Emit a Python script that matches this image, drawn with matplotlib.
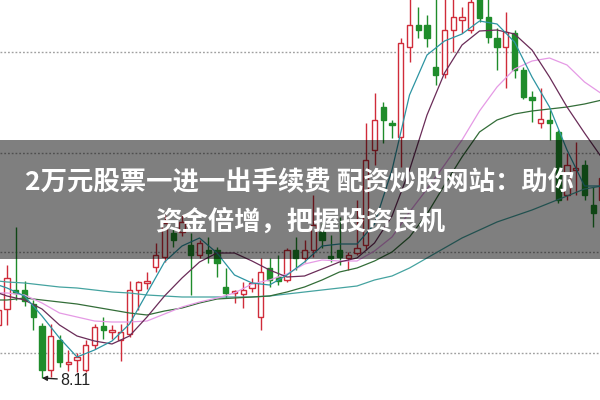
import numpy as np
import matplotlib
matplotlib.use('Agg')
import matplotlib.pyplot as plt
from matplotlib.patches import Rectangle

# -------- data -------- #
# candle index -1 .. 68 (daily K-line)
idx = np.arange(-1, 69)
opens = [8.64, 8.80, 8.99, 8.99, 8.85, 8.63, 8.19, 8.49, 8.25, 8.29,
         8.19, 8.44, 8.63, 8.57, 8.49, 8.55, 8.99, 9.06, 9.22, 9.32,
         9.56, 9.57, 9.44, 9.34, 9.39, 9.39, 9.02, 8.96, 8.95, 9.01,
         8.72, 9.21, 9.12, 9.09, 9.39, 9.31, 9.39, 9.57, 9.33, 9.39,
         9.31, 9.36, 9.44, 10.39, 10.82, 10.66, 10.52, 11.42, 11.64, 11.64,
         11.22, 11.15, 11.59, 11.69, 11.59, 11.94, 11.72, 11.51, 11.42, 11.56,
         11.19, 10.92, 10.66, 10.69, 10.57, 9.94, 10.19, 10.24, 9.84, 9.89]
closes = [8.79, 9.11, 8.96, 8.88, 8.72, 8.19, 8.53, 8.27, 8.27, 8.32,
          8.44, 8.62, 8.59, 8.59, 8.57, 8.99, 9.07, 9.08, 9.34, 9.66,
          9.49, 9.67, 9.34, 9.46, 9.36, 9.26, 8.96, 8.98, 8.99, 9.06,
          9.17, 9.09, 9.08, 9.39, 9.31, 9.39, 9.64, 9.49, 9.31, 9.32,
          9.34, 9.41, 10.29, 10.69, 10.69, 10.64, 11.46, 11.64, 11.59, 11.51,
          11.14, 11.59, 11.72, 11.72, 11.87, 11.71, 11.52, 11.42, 11.57, 11.19,
          10.92, 10.89, 10.70, 10.66, 9.89, 10.24, 10.21, 9.94, 9.76, 10.11]
highs = [8.84, 9.24, 9.62, 9.08, 8.89, 8.66, 8.65, 8.54, 8.39, 8.36,
         8.49, 8.65, 8.72, 8.64, 8.65, 9.08, 9.08, 9.17, 9.46, 9.74,
         9.62, 9.74, 9.56, 9.49, 9.52, 9.42, 9.21, 8.99, 9.07, 9.11,
         9.31, 9.31, 9.34, 9.41, 9.52, 9.49, 9.94, 9.66, 9.54, 9.72,
         9.37, 9.89, 10.66, 10.96, 10.87, 10.69, 11.51, 11.95, 11.82, 11.74,
         11.95, 11.95, 11.95, 11.82, 11.94, 11.99, 11.95, 11.61, 11.77, 11.59,
         11.22, 10.98, 11.01, 10.79, 10.59, 10.36, 10.47, 10.29, 10.02, 10.19]
lows = [8.61, 8.64, 8.89, 8.83, 8.59, 8.11, 8.12, 8.22, 8.18, 8.17,
        8.17, 8.40, 8.50, 8.50, 8.28, 8.52, 8.79, 9.00, 9.17, 9.27,
        9.42, 9.53, 8.94, 9.31, 9.26, 9.12, 8.91, 8.86, 8.81, 8.97,
        8.59, 9.02, 9.04, 9.07, 9.19, 9.27, 9.32, 9.41, 9.27, 9.24,
        9.19, 9.34, 9.39, 10.24, 10.46, 10.51, 10.22, 11.27, 11.51, 11.42,
        11.04, 11.11, 11.37, 11.56, 11.56, 11.67, 11.46, 11.19, 11.01, 11.11,
        10.90, 10.67, 10.61, 10.49, 9.86, 9.89, 9.94, 9.89, 9.62, 9.84]

# moving averages, read every 2nd candle
ma_idx = [-1] + list(range(0, 69, 2))
ma_fast = [9.04, 9.01, 8.93, 8.73, 8.51, 8.32, 8.39, 8.48, 8.65, 8.96, 9.27,
           9.43, 9.51, 9.36, 9.14, 9.06, 9.04, 9.14, 9.27, 9.43, 9.45,
           9.45, 9.65, 10.19, 10.94, 11.34, 11.48, 11.55, 11.68, 11.65, 11.47,
           11.12, 10.82, 10.39, 10.03, 10.03]
ma_10 = [8.96, 8.93, 8.89, 8.80, 8.64, 8.53, 8.48, 8.45, 8.53, 8.72, 8.93,
         9.11, 9.27, 9.36, 9.36, 9.28, 9.19, 9.12, 9.13, 9.20, 9.27,
         9.31, 9.46, 9.73, 10.19, 10.74, 11.16, 11.44, 11.58, 11.59, 11.55,
         11.39, 11.12, 10.82, 10.56, 10.31]
ma_20 = [8.96, 8.96, 8.94, 8.86, 8.76, 8.72, 8.68, 8.67, 8.67, 8.68, 8.75,
         8.82, 8.87, 8.91, 8.96, 9.05, 9.09, 9.15, 9.25, 9.29, 9.28,
         9.28, 9.38, 9.52, 9.77, 10.00, 10.24, 10.49, 10.78, 11.02, 11.20,
         11.28, 11.31, 11.24, 11.07, 10.95]
ma_30 = [8.89, 8.89, 8.91, 8.89, 8.87, 8.85, 8.82, 8.79, 8.76, 8.74, 8.78,
         8.81, 8.86, 8.90, 8.91, 8.92, 8.93, 8.97, 9.02, 9.09, 9.17,
         9.21, 9.28, 9.37, 9.52, 9.75, 10.04, 10.32, 10.57, 10.69, 10.75,
         10.78, 10.80, 10.82, 10.85, 10.89]
ma_60 = [9.08, 9.07, 9.06, 9.04, 9.02, 9.01, 8.99, 8.97, 8.96, 8.94, 8.93,
         8.92, 8.92, 8.92, 8.92, 8.92, 8.93, 8.95, 8.97, 8.99, 9.01,
         9.03, 9.09, 9.13, 9.21, 9.31, 9.41, 9.51, 9.59, 9.67, 9.73,
         9.79, 9.86, 9.93, 10.00, 10.03]

grid_levels = [11.37, 10.36, 9.37, 8.36]
low_label = '8.11'
low_idx = 4
title_1 = '2万元股票一进一出手续费 配资炒股网站：助你'
title_2 = '资金倍增，把握投资良机'

RED = '#d02c3a'
GREEN = '#1f8c2b'

# -------- plot -------- #
fig = plt.figure(figsize=(6, 4), dpi=100)
ax = fig.add_axes([0, 0, 1, 1])
ax.set_xlim(-0.8, 67.77)
ax.set_ylim(7.89, 11.89)
ax.axis('off')

for g in grid_levels:
    ax.axhline(g, color='#a0a0a0', lw=1, ls=(0, (1.3, 1.4)), zorder=1)

w = 0.62
for i, o, h, l, c in zip(idx, opens, highs, lows, closes):
    up = c >= o
    col = RED if up else GREEN
    ax.vlines(i, l, h, color=col, lw=1.0, zorder=2)
    bottom = min(o, c)
    height = max(abs(c - o), 0.012)
    ax.add_patch(Rectangle((i - w / 2, bottom), w, height,
                           facecolor='white' if up else col,
                           edgecolor=col, lw=1.0, zorder=3))

ax.plot(ma_idx, ma_60, color='#45a3a0', lw=0.9, zorder=4)
ax.plot(ma_idx, ma_30, color='#336d38', lw=0.9, zorder=4)
ax.plot(ma_idx, ma_20, color='#e59ae5', lw=0.9, zorder=4)
ax.plot(ma_idx, ma_10, color='#6a2c58', lw=0.9, zorder=4)
ax.plot(ma_idx, ma_fast, color='#2d94a2', lw=0.9, zorder=4)

ax.annotate(low_label, xy=(low_idx, lows[low_idx + 1]), xytext=(18, -2),
            textcoords='offset pixels', ha='left', va='center',
            fontsize=11.5, family='Liberation Sans', color='#222222',
            arrowprops=dict(arrowstyle='-|>', color='#222222', lw=1,
                            shrinkA=0, shrinkB=0, mutation_scale=7))

# banner over the chart
fig.add_artist(Rectangle((0, 1 - 259 / 400), 1, 119 / 400,
                         transform=fig.transFigure, facecolor='black',
                         alpha=0.5, lw=0, zorder=10))
fig.text(0.5, 1 - 183 / 400, title_1, ha='center', va='center',
         color='white', fontsize=19, fontweight='bold',
         family=['Noto Sans CJK SC', 'DejaVu Sans'], zorder=11)
fig.text(0.5, 1 - 222 / 400, title_2, ha='center', va='center',
         color='white', fontsize=19, fontweight='bold',
         family=['Noto Sans CJK SC', 'DejaVu Sans'], zorder=11)

fig.savefig('out.png', dpi=100)
